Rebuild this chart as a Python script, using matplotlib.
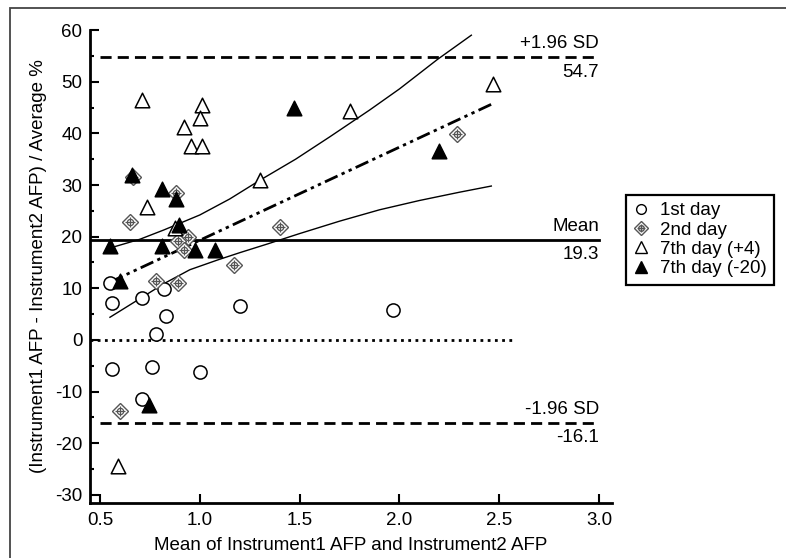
import matplotlib
matplotlib.use('Agg')
import matplotlib.pyplot as plt
from matplotlib.lines import Line2D
from matplotlib.patches import Rectangle
from matplotlib.ticker import MultipleLocator, FormatStrFormatter

plt.rcParams['font.family'] = ['Liberation Sans', 'DejaVu Sans']
plt.rcParams['axes.unicode_minus'] = False

# 1st day
day1_x = [0.55, 0.56, 0.71, 0.82, 0.83, 0.78, 1.20, 0.56, 0.76, 1.00, 0.71, 1.97]
day1_y = [11.0, 7.1, 8.2, 9.8, 4.6, 1.1, 6.6, -5.6, -5.3, -6.1, -11.4, 5.9]

# 2nd day
day2_x = [0.665, 0.88, 0.65, 1.40, 0.94, 0.89, 0.92, 1.17, 2.29, 0.78, 0.89, 0.60]
day2_y = [31.6, 28.5, 22.9, 21.9, 20.0, 19.2, 17.4, 14.5, 39.8, 11.5, 11.1, -13.7]

# 7th day (+4)
day7p_x = [0.71, 1.01, 1.00, 0.92, 0.955, 1.01, 1.30, 0.735, 0.875, 1.75, 2.47, 0.59]
day7p_y = [46.4, 45.5, 42.9, 41.3, 37.5, 37.5, 31.0, 25.7, 21.6, 44.4, 49.5, -24.3]

# 7th day (-20)
day7m_x = [1.47, 0.66, 0.81, 0.88, 0.895, 0.55, 0.81, 0.975, 1.075, 2.20, 0.60, 0.745]
day7m_y = [45.0, 31.9, 29.3, 27.2, 22.2, 18.2, 18.2, 17.4, 17.5, 36.6, 11.5, -12.6]

# regression line and its confidence band
reg_x = [0.55, 2.47]
reg_y = [11.2, 45.8]
upper_x = [0.55, 0.70, 0.82, 1.00, 1.15, 1.30, 1.48, 1.65, 1.85, 2.00, 2.19, 2.36]
upper_y = [17.8, 19.5, 21.3, 24.2, 27.3, 30.9, 35.0, 39.3, 44.5, 48.6, 54.3, 59.0]
lower_x = [0.55, 0.70, 0.82, 0.95, 1.09, 1.20, 1.34, 1.50, 1.70, 1.90, 2.10, 2.30, 2.46]
lower_y = [4.4, 8.0, 10.9, 13.6, 15.5, 16.9, 18.6, 20.6, 23.0, 25.2, 27.0, 28.6, 29.8]

mean_diff = 19.3
upper_loa = 54.7
lower_loa = -16.1

fs = 13.5

fig = plt.figure(figsize=(7.86, 5.58), dpi=100)
ax = fig.add_axes([0.1145, 0.0986, 0.6635, 0.8476])

# reference lines
ax.plot([0.5, 3.0], [upper_loa, upper_loa], color='black', lw=2, dashes=(4, 2.2))
ax.plot([0.45, 3.0], [mean_diff, mean_diff], color='black', lw=2)
ax.plot([0.5, 3.0], [lower_loa, lower_loa], color='black', lw=2, dashes=(4, 2.2))
ax.plot([0.45, 2.57], [0, 0], color='black', lw=2, dashes=(1, 1.6))

ax.plot(reg_x, reg_y, color='black', lw=2, dashes=(5, 1.6, 1.2, 1.6, 1.2, 1.6))
ax.plot(upper_x, upper_y, color='black', lw=1)
ax.plot(lower_x, lower_y, color='black', lw=1)

# points
ax.scatter(day1_x, day1_y, s=90, marker='o', facecolors='white', edgecolors='black', linewidths=1.1, zorder=3)
diamond_kw = dict(color='#555555', linestyle='none', zorder=3)
ax.plot(day2_x, day2_y, marker='D', markersize=8, markerfacecolor='white', markeredgewidth=1.0, **diamond_kw)
ax.plot(day2_x, day2_y, marker='o', markersize=4.5, markerfacecolor='none', markeredgewidth=0.9, **diamond_kw)
ax.plot(day2_x, day2_y, marker='+', markersize=7, markeredgewidth=0.9, **diamond_kw)
ax.scatter(day7p_x, day7p_y, s=110, marker='^', facecolors='white', edgecolors='black', linewidths=1.1, zorder=3)
ax.scatter(day7m_x, day7m_y, s=110, marker='^', facecolors='black', edgecolors='black', linewidths=1.1, zorder=4)

# labels for the limits
lab_kw = dict(ha='right', fontsize=fs)
ax.text(3.0, upper_loa + 1.0, '+1.96 SD', va='bottom', **lab_kw)
ax.text(3.0, upper_loa - 1.2, f'{upper_loa}', va='top', **lab_kw)
ax.text(3.0, mean_diff + 1.0, 'Mean', va='bottom', **lab_kw)
ax.text(3.0, mean_diff - 1.2, f'{mean_diff}', va='top', **lab_kw)
ax.text(3.0, lower_loa + 1.0, '-1.96 SD', va='bottom', **lab_kw)
ax.text(3.0, lower_loa - 1.2, f'{lower_loa}', va='top', **lab_kw)

ax.set_xlim(0.45, 3.062)
ax.set_ylim(-31.55, 60.0)
ax.xaxis.set_major_locator(MultipleLocator(0.5))
ax.yaxis.set_major_locator(MultipleLocator(10))
ax.yaxis.set_minor_locator(MultipleLocator(5))
ax.xaxis.set_major_formatter(FormatStrFormatter('%.1f'))
ax.tick_params(direction='in', length=6.5, width=1.5, labelsize=fs)
ax.tick_params(axis='x', pad=6.5)
ax.tick_params(axis='y', pad=5.5)
ax.tick_params(which='minor', direction='in', length=3, width=1.5)
for s in ['top', 'right']:
    ax.spines[s].set_visible(False)
for s in ['left', 'bottom']:
    ax.spines[s].set_linewidth(2)

ax.set_xlabel('Mean of Instrument1 AFP and Instrument2 AFP', fontsize=fs, labelpad=6)
ax.set_ylabel('(Instrument1 AFP - Instrument2 AFP) / Average %', fontsize=fs, labelpad=6)

# legend
h1 = Line2D([], [], marker='o', markersize=7, markerfacecolor='white', markeredgecolor='black', linestyle='none')
h2 = (Line2D([], [], marker='D', markersize=7, markerfacecolor='white', markeredgecolor='#555555', linestyle='none'),
      Line2D([], [], marker='o', markersize=4, markerfacecolor='none', markeredgecolor='#555555', linestyle='none'),
      Line2D([], [], marker='+', markersize=6, markeredgecolor='#555555', linestyle='none'))
h3 = Line2D([], [], marker='^', markersize=8, markerfacecolor='white', markeredgecolor='black', linestyle='none')
h4 = Line2D([], [], marker='^', markersize=8, markerfacecolor='black', markeredgecolor='black', linestyle='none')
leg = fig.legend([h1, h2, h3, h4], ['1st day', '2nd day', '7th day (+4)', '7th day (-20)'],
                 loc='upper left', bbox_to_anchor=(0.785, 0.668), fontsize=fs,
                 fancybox=False, edgecolor='black', framealpha=1,
                 handlelength=0.8, handletextpad=0.6, labelspacing=0.12, borderpad=0.4)
leg.get_frame().set_linewidth(1.6)

# outer frame
fig.patches.append(Rectangle((10 / 786, -0.1), 1.2, 1 - 8 / 558 + 0.1, transform=fig.transFigure,
                             fill=False, edgecolor='#444444', lw=1.3))

fig.savefig('out.png', dpi=100)
